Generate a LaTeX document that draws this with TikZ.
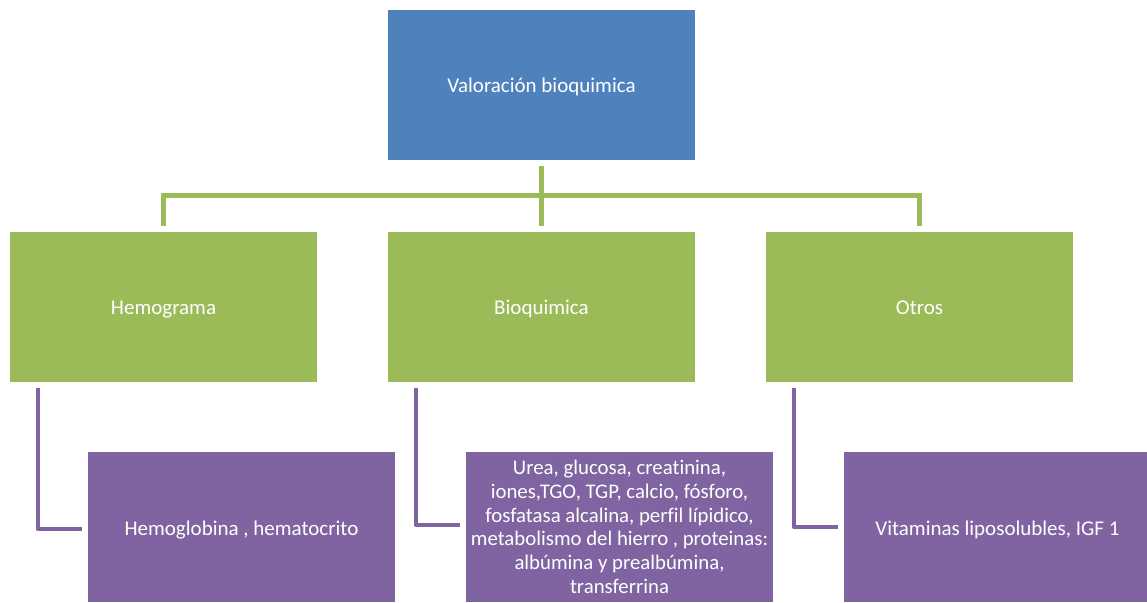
\documentclass[tikz,border=0pt]{standalone}
\usepackage{fontspec}
\setmainfont{Carlito}[Ligatures=NoCommon]
\definecolor{boxblue}{HTML}{4F81BD}
\definecolor{boxgreen}{HTML}{9BBB59}
\definecolor{boxpurple}{HTML}{8064A2}
\tikzset{
  box/.style={rectangle, minimum width=307pt, minimum height=150pt, inner sep=0pt,
    text=white, font=\fontsize{21}{25.6}\selectfont, align=center},
  oneline/.style={text height=17.5pt, text depth=1.5pt},
  topbox/.style={box, oneline, fill=boxblue},
  midbox/.style={box, oneline, fill=boxgreen},
  lowbox/.style={box, fill=boxpurple},
  greenline/.style={draw=boxgreen, line width=5pt},
  purpleline/.style={draw=boxpurple, line width=4pt, line join=round}
}
\begin{document}
\begin{tikzpicture}[x=1pt, y=1pt]
	\useasboundingbox (0,0) rectangle (1147,602);
	% Top box
	\node[topbox] (valor) at (541.5,517) {Valoración bioquimica};
	% Middle row
	\node[midbox] (hemo) at (163.5,295) {Hemograma};
	\node[midbox] (bioq) at (541.5,295) {Bioquimica};
	\node[midbox] (otros) at (919.5,295) {Otros};
	% Bottom row
	\node[lowbox, oneline] (hemog) at (241.5,75) {Hemoglobina , hematocrito};
	\node[lowbox, font=\fontsize{20.8}{23.7}\selectfont] (lista) at (619.5,75) {Urea, glucosa, creatinina,\\iones,TGO, TGP, calcio, fósforo,\\fosfatasa alcalina, perfil lípidico,\\metabolismo del hierro , proteinas:\\albúmina y prealbúmina,\\transferrina};
	\node[lowbox, oneline] (vitam) at (997.5,75) {Vitaminas liposolubles, IGF 1};
	% Green tree
	\draw[greenline] ([yshift=-6pt]valor.south) -- ([yshift=6pt]bioq.north);
	\draw[greenline] ([yshift=6pt]hemo.north) |- (541.5,406) -| ([yshift=6pt]otros.north);
	% Purple links
	\draw[purpleline] ([xshift=28pt,yshift=-6pt]hemo.south west) |- ([xshift=-6pt,yshift=-2pt]hemog.west);
	\draw[purpleline] ([xshift=28pt,yshift=-6pt]bioq.south west) |- ([xshift=-6pt,yshift=2pt]lista.west);
	\draw[purpleline] ([xshift=28pt,yshift=-6pt]otros.south west) |- ([xshift=-6pt]vitam.west);
\end{tikzpicture}
\end{document}
